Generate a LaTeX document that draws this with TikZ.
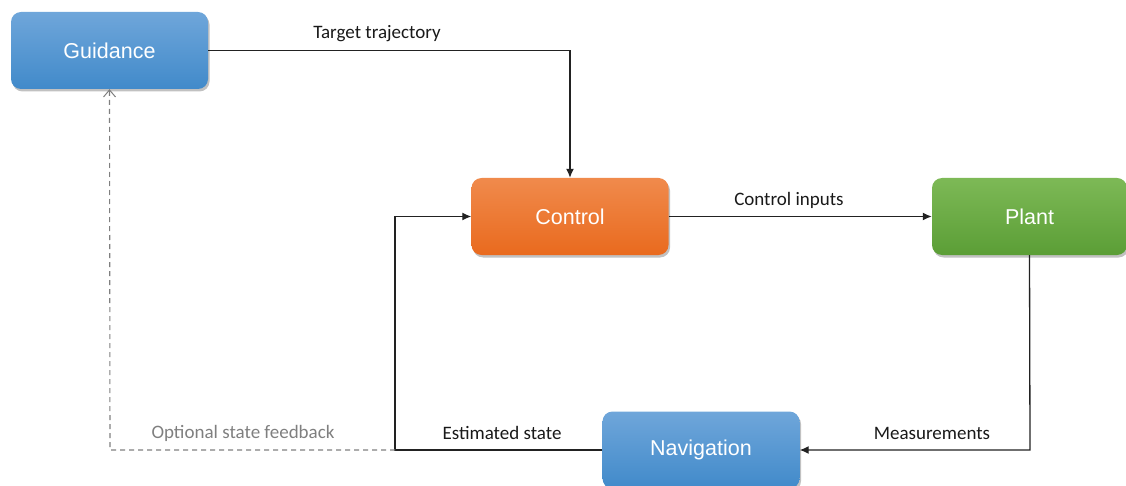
\documentclass[tikz,border=0pt]{standalone}
\usepackage{fontspec}
\setmainfont{Liberation Sans}
\newfontfamily\labelfont{Carlito}
\usetikzlibrary{arrows.meta,shadows}
\definecolor{gtop}{HTML}{6FA6DA}
\definecolor{gbot}{HTML}{418ACA}
\definecolor{ctop}{HTML}{F08A4C}
\definecolor{cbot}{HTML}{E96A1E}
\definecolor{ptop}{HTML}{7DB956}
\definecolor{pbot}{HTML}{5B9E36}
\definecolor{linec}{HTML}{222222}
\definecolor{dashc}{HTML}{7F7F7F}
\tikzset{
  block/.style={rounded corners=10pt, minimum width=197pt, minimum height=77pt,
    text=white, font=\fontsize{21.5}{24}\selectfont, inner sep=0pt,
    drop shadow={shadow xshift=1.5pt, shadow yshift=-2.5pt, opacity=0.35, fill=black!70}},
  blueblock/.style={block, top color=gtop, bottom color=gbot},
  orangeblock/.style={block, top color=ctop, bottom color=cbot},
  greenblock/.style={block, top color=ptop, bottom color=pbot},
  conn/.style={draw=linec, line width=1.3pt, -{Latex[length=9pt,width=8pt]}},
  dconn/.style={draw=dashc, line width=1.1pt, dash pattern=on 5pt off 4pt,
    -{Straight Barb[length=7pt,width=12pt,line width=1pt]}},
  lbl/.style={font=\labelfont\fontsize{19}{21}\selectfont, text=black!90},
  glbl/.style={font=\labelfont\fontsize{19}{21}\selectfont, text=dashc},
}
\begin{document}
\begin{tikzpicture}[x=1pt,y=-1pt]
\useasboundingbox (0,0) rectangle (1126,486);
\node[blueblock] (guid) at (109.5,50.5) {Guidance};
\node[orangeblock] (ctrl) at (570,216.5) {Control};
\node[greenblock, minimum width=195pt] (plant) at (1029.5,216.5) {Plant};
\node[blueblock] (nav) at (701,450) {Navigation};
\coordinate (tc) at (570,50.5);
\coordinate (pc) at (1030,450);
\coordinate (ec) at (395,450);
\coordinate (eu) at (395,216.5);
\coordinate (oc) at (110,450);
\draw[conn] (guid.east) -- (tc) -- (ctrl.north);
\draw[conn] (ctrl.east) -- (plant.west);
\draw[conn] (plant.south) -- (pc) -- (nav.east);
\draw[conn] (nav.west) -- (ec) -- (eu) -- (ctrl.west);
\draw[dconn] (ec) -- (oc) -- (guid.south);
\node[lbl] (l1) at (377,34) {Target trajectory};
\node[lbl] (l2) at (789,200) {Control inputs};
\node[lbl] (l3) at (932,433) {Measurements};
\node[lbl] (l4) at (502,433) {Estimated state};
\node[glbl] (l5) at (243,433) {Optional state feedback};
\end{tikzpicture}
\end{document}
